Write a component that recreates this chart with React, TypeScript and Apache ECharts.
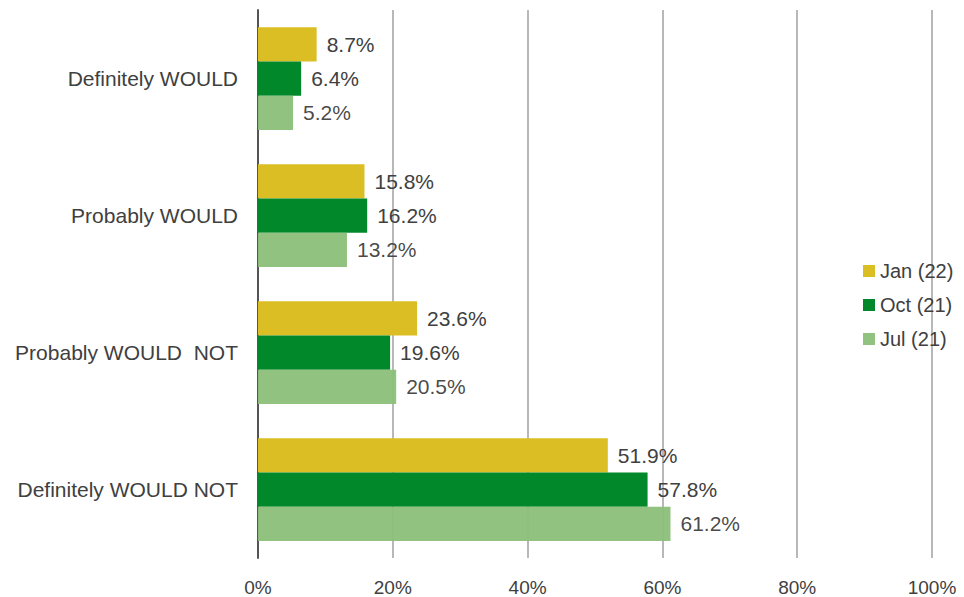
import React, { useEffect, useRef } from "react";
import * as echarts from "echarts";

const categories = ["Definitely WOULD", "Probably WOULD", "Probably WOULD  NOT", "Definitely WOULD NOT"];
const seriesNames = ["Jan (22)", "Oct (21)", "Jul (21)"];
const jan22 = [8.7, 15.8, 23.6, 51.9];
const oct21 = [6.4, 16.2, 19.6, 57.8];
const jul21 = [5.2, 13.2, 20.5, 61.2];
const colors = ["#DBBD24", "#00882B", "#8BBF78"];
const xTicks = [0, 20, 40, 60, 80, 100];

export default function App() {
  const ref = useRef<HTMLDivElement>(null);
  useEffect(() => {
    if (!ref.current) return;
    const chart = echarts.init(ref.current, undefined, { renderer: "svg" });
    const font = "Liberation Sans, Arial, sans-serif";
    const data = [jan22, oct21, jul21];
    chart.setOption({
      animation: false,
      textStyle: { fontFamily: font },
      grid: { left: 258, right: 32, top: 10, bottom: 39, containLabel: false },
      legend: {
        orient: "vertical",
        left: 858,
        top: 256,
        itemWidth: 12,
        itemHeight: 12,
        itemGap: 14,
        icon: "rect",
        textStyle: { fontSize: 20, color: "#404040", fontFamily: font },
        data: seriesNames,
      },
      xAxis: {
        type: "value",
        min: xTicks[0],
        max: xTicks[xTicks.length - 1],
        interval: 20,
        axisLabel: { formatter: "{value}%", fontSize: 19, color: "#404040", margin: 20, fontFamily: font },
        splitLine: { show: true, lineStyle: { color: "#A0A0A0", width: 1.5 } },
        axisLine: { show: false },
        axisTick: { show: false },
      },
      yAxis: {
        type: "category",
        inverse: true,
        data: categories,
        axisLine: { show: true, lineStyle: { color: "#555555", width: 2 } },
        axisTick: { show: false },
        axisLabel: { fontSize: 21, color: "#404040", margin: 20, fontFamily: font },
      },
      series: seriesNames.map((name, i) => ({
        name,
        type: "bar",
        data: data[i],
        barGap: "0%",
        barCategoryGap: "25%",
        itemStyle: { color: colors[i], opacity: i === 2 ? 0.95 : 1 },
        label: {
          show: true,
          position: "right",
          distance: 10,
          formatter: (p: any) => p.value.toFixed(1) + "%",
          fontSize: 21,
          color: "#404040",
          fontFamily: font,
        },
      })),
    });
    return () => chart.dispose();
  }, []);
  return <div ref={ref} style={{ width: 964, height: 597, position: "absolute", left: 0, top: 0 }} />;
}
